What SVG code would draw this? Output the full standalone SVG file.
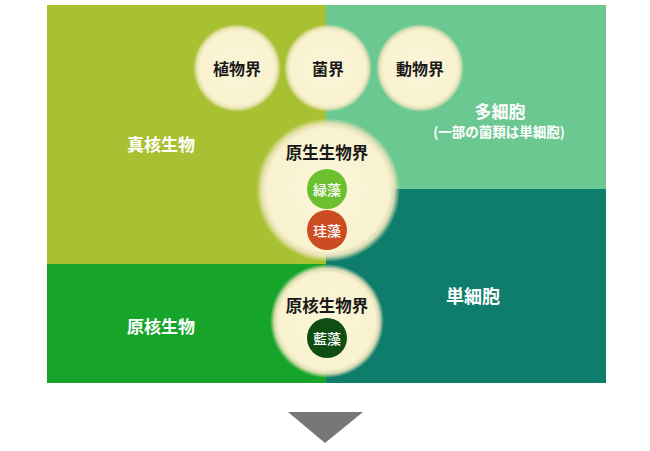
<svg xmlns="http://www.w3.org/2000/svg" width="650" height="451" viewBox="0 0 650 451">
<style>
text{font-family:"Noto Sans CJK JP","Noto Sans",sans-serif;font-weight:bold;text-anchor:middle;dominant-baseline:central}
.w{fill:#ffffff}
.k{fill:#1a1a1a}
.s{font-weight:500}
.circ{fill:url(#cream);filter:url(#tex)}
</style>
<defs>
<radialGradient id="cream" cx="0.5" cy="0.5" r="0.5">
<stop offset="0" stop-color="#fdf8dc"/>
<stop offset="0.85" stop-color="#fbf4d2"/>
<stop offset="0.92" stop-color="#f1e7bf" stop-opacity="0.9"/>
<stop offset="1" stop-color="#efe6bd" stop-opacity="0"/>
</radialGradient>
<filter id="tex" x="-10%" y="-10%" width="120%" height="120%">
<feTurbulence type="fractalNoise" baseFrequency="0.9" numOctaves="2" seed="3" result="n"/>
<feColorMatrix in="n" type="matrix" values="0 0 0 0 0.6  0 0 0 0 0.55  0 0 0 0 0.35  0 0 0 0.09 0" result="c"/>
<feComposite in="c" in2="SourceGraphic" operator="in" result="t"/>
<feMerge><feMergeNode in="SourceGraphic"/><feMergeNode in="t"/></feMerge>
</filter>
</defs>
<rect width="650" height="451" fill="#ffffff"/>
<g id="regions">
<rect x="47" y="5" width="279" height="259" fill="#a8c132"/>
<rect x="47" y="264" width="279" height="119" fill="#16a52a"/>
<rect x="326" y="5" width="280" height="184" fill="#6bc891"/>
<rect x="326" y="189" width="280" height="194" fill="#0e7d6b"/>
</g>
<g id="region-labels">
<text class="w" x="161" y="143" font-size="17">真核生物</text>
<text class="w" x="161" y="325" font-size="17">原核生物</text>
<text class="w" x="500" y="110" font-size="17">多細胞</text>
<text class="w" x="499" y="131" font-size="13.5">(一部の菌類は単細胞)</text>
<text class="w" x="473" y="295" font-size="18">単細胞</text>
</g>
<g id="plantae"><circle class="circ" cx="237" cy="68" r="44"/><text class="k" x="237" y="68" font-size="16">植物界</text></g>
<g id="fungi"><circle class="circ" cx="328" cy="68" r="44"/><text class="k" x="328" y="68" font-size="16">菌界</text></g>
<g id="animalia"><circle class="circ" cx="420" cy="68" r="44"/><text class="k" x="420" y="68" font-size="16">動物界</text></g>
<g id="protista"><circle class="circ" cx="328" cy="190" r="72"/><text class="k" x="327" y="152" font-size="16.5">原生生物界</text></g>
<g id="green-algae"><circle cx="327" cy="189" r="20" fill="#6cbf2e"/><text class="w s" x="327" y="189" font-size="14">緑藻</text></g>
<g id="diatom"><circle cx="327" cy="230" r="20" fill="#cc4c22"/><text class="w s" x="327" y="230" font-size="14">珪藻</text></g>
<g id="monera"><circle class="circ" cx="327" cy="321" r="57"/><text class="k" x="327" y="305" font-size="16.5">原核生物界</text></g>
<g id="blue-green-algae"><circle cx="327" cy="338" r="20" fill="#0f4e12"/><text class="w s" x="327" y="338" font-size="14">藍藻</text></g>
<g id="connectors">
<polygon points="288,412 363,412 325,443" fill="#777777"/>
</g>
</svg>
